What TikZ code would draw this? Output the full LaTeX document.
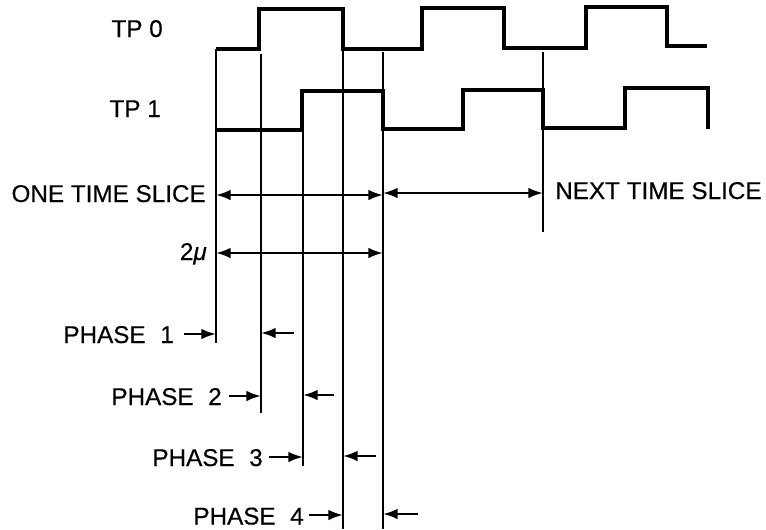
\documentclass[tikz,border=0pt]{standalone}
\usepackage{fontspec}
\setmainfont{Liberation Sans}
\newfontfamily\lblfont{Liberation Sans}[FakeBold=0.4]
\usetikzlibrary{arrows.meta}
\begin{document}
\begin{tikzpicture}[x=0.75pt,y=-0.75pt,
  wave/.style={line width=3.4pt,line join=miter,line cap=butt},
  vline/.style={line width=2.1pt},
  dim/.style={line width=1.8pt,{Latex[length=11pt,width=8pt]}-{Latex[length=11pt,width=8pt]}},
  ptr/.style={line width=1.8pt,-{Latex[length=11pt,width=8pt]}},
  lbl/.style={inner sep=0pt,font=\lblfont\fontsize{18.2}{21}\selectfont}]
\useasboundingbox (0,0) rectangle (766,529);
% waveforms
\draw[wave] (216,49) -- (259,49) -- (259,9) -- (343,9) -- (343,49) -- (422,49) -- (422,8) -- (504,8) -- (504,48) -- (586,48) -- (586,7) -- (667,7) -- (667,46) -- (707,46);
\draw[wave] (216,130) -- (302,130) -- (302,91) -- (383,91) -- (383,129) -- (463,129) -- (463,90) -- (543,90) -- (543,128) -- (625,128) -- (625,88) -- (708,88) -- (708,129);
% vertical lines
\draw[vline] (216,49) -- (216,343);
\draw[vline] (261,54) -- (261,413);
\draw[vline] (303,91) -- (303,466);
\draw[vline] (343,49) -- (343,529);
\draw[vline] (383,52) -- (383,529);
\draw[vline] (543,52) -- (543,232);
% labels
\node[lbl,anchor=base east] (tp0) at (163,37) {TP 0};
\node[lbl,anchor=base east] (tp1) at (161,117) {TP 1};
\node[lbl,anchor=base east] (one) at (206,202) {ONE TIME SLICE};
\node[lbl,anchor=base east] (two) at (207,260) {2\textit{μ}};
\node[lbl,anchor=base west] (next) at (555,199) {NEXT TIME SLICE};
\node[lbl,anchor=base east] (p1) at (174,343) {PHASE\hspace{0.6em}1};
\node[lbl,anchor=base east] (p2) at (222,405) {PHASE\hspace{0.6em}2};
\node[lbl,anchor=base east] (p3) at (263,466) {PHASE\hspace{0.6em}3};
\node[lbl,anchor=base east] (p4) at (304,524.5) {PHASE\hspace{0.6em}4};
% dimension arrows
\coordinate (a1) at (216,195); \coordinate (a2) at (383,195);
\coordinate (b1) at (383,193); \coordinate (b2) at (543,193);
\coordinate (c1) at (216,253); \coordinate (c2) at (383,253);
\draw[dim] (a1) -- (a2);
\draw[dim] (b1) -- (b2);
\draw[dim] (c1) -- (c2);
% phase pointers
\coordinate (q1t) at (184,334); \coordinate (q1h) at (216,334);
\coordinate (r1t) at (294,333); \coordinate (r1h) at (261,333);
\coordinate (q2t) at (229,396); \coordinate (q2h) at (261,396);
\coordinate (r2t) at (334,395); \coordinate (r2h) at (303,395);
\coordinate (q3t) at (269,457); \coordinate (q3h) at (303,457);
\coordinate (r3t) at (376,456); \coordinate (r3h) at (343,456);
\coordinate (q4t) at (309,515); \coordinate (q4h) at (343,515);
\coordinate (r4t) at (418,514); \coordinate (r4h) at (383,514);
\foreach \n in {1,2,3,4}{
  \draw[ptr] (q\n t) -- (q\n h);
  \draw[ptr] (r\n t) -- (r\n h);
}
\end{tikzpicture}
\end{document}
